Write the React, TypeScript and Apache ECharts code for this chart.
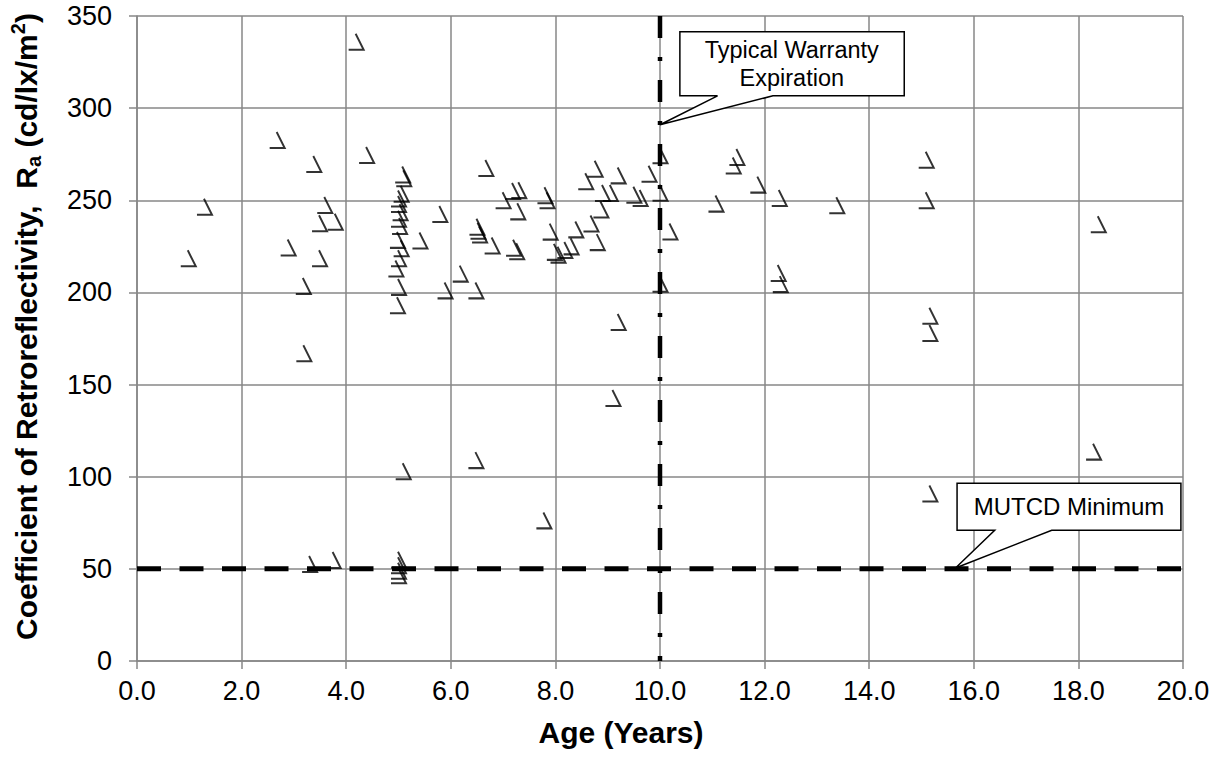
import React, { useEffect, useRef } from 'react';
import * as echarts from 'echarts';

// Age (years) and retroreflectivity Ra (cd/lx/m2) of each measured sign
const ages = [
  0.98, 1.29, 2.68, 2.89, 3.18, 3.19, 3.38, 3.49, 3.49, 3.59, 3.79, 4.19, 4.39,
  5.08, 5.1, 5.05, 5.0, 5.0, 5.03, 5.0, 5.02, 4.98, 5.05, 5.0, 4.95, 5.0, 4.98,
  5.41, 5.79, 5.89, 6.18, 6.48, 6.5, 6.52, 6.55, 6.67, 6.79,
  7.0, 7.18, 7.3, 7.28, 7.2, 7.26, 7.8, 7.84, 7.9, 7.98, 8.05, 8.18, 8.3, 8.39,
  8.58, 8.68, 8.76, 8.8, 8.87, 8.9, 9.05, 9.2, 9.5, 9.62, 9.79,
  10.0, 10.0, 10.0, 10.19, 9.2, 9.1,
  11.07, 11.47, 11.4, 11.87, 12.28, 12.26, 12.3, 13.38,
  15.09, 15.09, 15.16, 15.16, 15.16, 18.29, 18.38,
  7.78, 6.48, 5.09, 3.3, 3.75, 5.0, 5.0, 5.0, 5.0,
];
const ra = [
  218.5, 246.5, 282.7, 224.4, 203.5, 167, 269.7, 237.5, 218.5, 247.4, 238.4, 336, 274.6,
  264, 262, 253.5, 251, 248, 243.5, 240, 236, 228.5, 224, 218.5, 213, 203, 193,
  228.2, 242.6, 201.1, 210.2, 201.1, 235.6, 233.5, 231.4, 267.5, 225.5,
  250, 255, 255.5, 244, 224.2, 222.3, 252.7, 250, 233, 222, 220.5, 223, 225, 234.2,
  260.3, 237.4, 267.1, 227.3, 245, 254, 254, 263.5, 253, 251.2, 264.4,
  274.4, 254.1, 204.7, 233.1, 184, 142.7,
  248.2, 273.5, 268.9, 258.5, 251.2, 210.5, 204.5, 247.3,
  272, 250, 187.3, 178, 90.9, 113.6, 237,
  76.3, 109, 103, 52.6, 54.8, 55, 52, 49, 46.5,
];

const mutcdMinimum = 50; // cd/lx/m2
const warrantyAge = 10; // years
const xRange = [0, 20];
const yRange = [0, 350];

const FONT = "'Liberation Sans', Arial, sans-serif";
const GRID = '#878787';

export default function App() {
  const ref = useRef<HTMLDivElement>(null);

  useEffect(() => {
    const chart = echarts.init(ref.current!, null, { renderer: 'svg' });
    const points = ages.map((a, i) => [a, ra[i]]);

    chart.setOption({
      animation: false,
      backgroundColor: '#fff',
      grid: { left: 137, top: 16, width: 1046, height: 645, containLabel: false },
      xAxis: {
        type: 'value',
        min: xRange[0],
        max: xRange[1],
        interval: 2,
        name: 'Age (Years)',
        nameLocation: 'middle',
        nameGap: 56,
        nameTextStyle: {
          fontSize: 30,
          fontWeight: 'bold',
          color: '#000',
          fontFamily: FONT,
          padding: [0, 78, 0, 0],
        },
        axisLine: { show: true, lineStyle: { color: GRID, width: 1.5 } },
        axisTick: { show: true, inside: false, length: 8, lineStyle: { color: GRID, width: 1.5 } },
        axisLabel: {
          formatter: (v: number) => v.toFixed(1),
          fontSize: 27,
          color: '#000',
          fontFamily: FONT,
          margin: 16,
        },
        splitLine: { show: true, lineStyle: { color: GRID, width: 1.5 } },
      },
      yAxis: {
        type: 'value',
        min: yRange[0],
        max: yRange[1],
        interval: 50,
        name: '{t|Coefficient of Retroreflectivity,  R}{s|a}{t| (cd/lx/m}{p|2}{t|)}',
        nameLocation: 'middle',
        nameRotate: 90,
        nameGap: 93,
        nameTextStyle: {
          fontSize: 30,
          fontWeight: 'bold',
          color: '#000',
          fontFamily: FONT,
          padding: [0, 0, 0, 24],
          rich: {
            t: { fontSize: 30, fontWeight: 'bold', color: '#000', fontFamily: FONT, lineHeight: 36 },
            s: { fontSize: 20, fontWeight: 'bold', color: '#000', fontFamily: FONT, verticalAlign: 'bottom', lineHeight: 30 },
            p: { fontSize: 20, fontWeight: 'bold', color: '#000', fontFamily: FONT, verticalAlign: 'top', lineHeight: 30 },
          },
        },
        axisLine: { show: true, lineStyle: { color: GRID, width: 1.5 } },
        axisTick: { show: true, inside: false, length: 8, lineStyle: { color: GRID, width: 1.5 } },
        axisLabel: { fontSize: 27, color: '#000', fontFamily: FONT, margin: 25 },
        splitLine: { show: true, lineStyle: { color: GRID, width: 1.5 } },
      },
      series: [
        {
          name: 'MUTCD Minimum',
          type: 'line',
          data: [[xRange[0], mutcdMinimum], [xRange[1], mutcdMinimum]],
          symbol: 'none',
          lineStyle: { color: '#000', width: 5, type: [24, 18.5] },
          silent: true,
          z: 2,
        },
        {
          name: 'Typical Warranty Expiration',
          type: 'line',
          data: [[warrantyAge, yRange[1]], [warrantyAge, yRange[0]]],
          symbol: 'none',
          lineStyle: { color: '#000', width: 4.5, type: [22, 19, 4, 19] },
          silent: true,
          z: 2,
        },
        {
          name: 'Signs',
          type: 'scatter',
          data: points,
          symbol: 'path://M7,0 L15,16 L0,16',
          symbolSize: [15, 16],
          itemStyle: { color: 'none', borderColor: '#000', borderWidth: 2 },
          z: 3,
        },
      ],
    });

    const px = (x: number, y: number) => chart.convertToPixel({ gridIndex: 0 }, [x, y]) as number[];

    const callout = (
      left: number, right: number, top: number, bottom: number,
      baseA: number, baseB: number, tip: number[],
    ) => {
      const tl = px(left, top);
      const br = px(right, bottom);
      const a = px(baseA, bottom);
      const b = px(baseB, bottom);
      const t = px(tip[0], tip[1]);
      return {
        type: 'polygon',
        shape: {
          points: [
            [tl[0], tl[1]], [br[0], tl[1]], [br[0], br[1]], [b[0], br[1]],
            [t[0], t[1]], [a[0], br[1]], [tl[0], br[1]],
          ],
        },
        style: { fill: '#fff', stroke: '#000', lineWidth: 1.5 },
        z: 10,
      };
    };

    const w1c = px(12.52, 324);
    const m1c = px(17.82, 83.6);

    chart.setOption({
      graphic: [
        callout(10.38, 14.67, 341.5, 306.7, 11.1, 12.16, [warrantyAge, 291]),
        {
          type: 'text',
          x: w1c[0],
          y: w1c[1],
          z: 11,
          style: {
            text: 'Typical Warranty\nExpiration',
            fontSize: 23.5,
            fontFamily: FONT,
            fill: '#000',
            align: 'center',
            verticalAlign: 'middle',
            lineHeight: 28,
          },
        },
        callout(15.68, 19.96, 96.4, 70.9, 16.4, 17.49, [15.65, mutcdMinimum + 0.5]),
        {
          type: 'text',
          x: m1c[0],
          y: m1c[1],
          z: 11,
          style: {
            text: 'MUTCD Minimum',
            fontSize: 24,
            fontFamily: FONT,
            fill: '#000',
            align: 'center',
            verticalAlign: 'middle',
          },
        },
      ],
    });

    return () => chart.dispose();
  }, []);

  return (
    <div
      ref={ref}
      style={{ position: 'absolute', left: 0, top: 0, width: 1218, height: 769 }}
    />
  );
}
